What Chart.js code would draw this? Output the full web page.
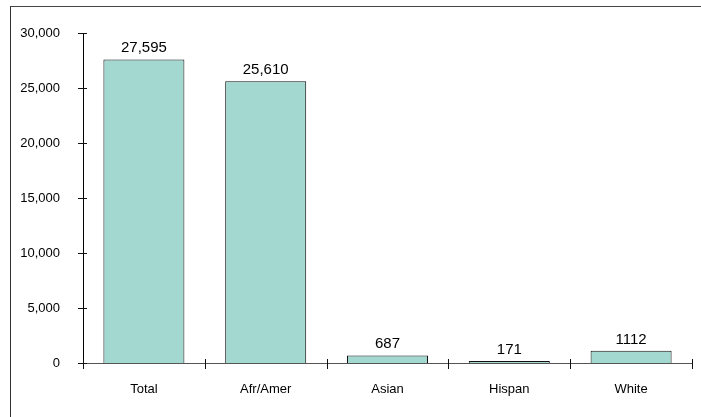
<!DOCTYPE html>
<html>
<head>
<meta charset="utf-8">
<script src="https://cdn.jsdelivr.net/npm/chart.js@4.4.1/dist/chart.umd.min.js"></script>
<style>
  body { margin: 0; background: #fff; }
  #wrap { position: relative; width: 701px; height: 417px; overflow: hidden; }
  #frame { position: absolute; left: 10px; top: 6px; width: 720px; height: 440px;
           border-left: 1px solid #333; border-top: 1px solid #444; }
  #chart { position: absolute; left: 0; top: 0; }
</style>
</head>
<body>
<div id="wrap">
  <div id="frame"></div>
  <canvas id="chart" width="701" height="417"></canvas>
</div>
<script>
// datos del grafico
const categorias = ["Total", "Afr/Amer", "Asian", "Hispan", "White"];
const valores = [27595, 25610, 687, 171, 1112];
const etiquetasValor = ["27,595", "25,610", "687", "171", "1112"];
const ticksY = ["0", "5,000", "10,000", "15,000", "20,000", "25,000", "30,000"];

const fuente = "'Liberation Sans', Arial, sans-serif";

// marcas de los ejes (cruzan la linea del eje) y etiquetas de valores
const extras = {
  id: "extras",
  afterDatasetsDraw(chart) {
    const ctx = chart.ctx;
    const x = chart.scales.x;
    const y = chart.scales.y;
    ctx.save();
    ctx.strokeStyle = "#111";
    ctx.lineWidth = 1;
    ctx.beginPath();
    y.ticks.forEach(t => {
      const py = Math.round(y.getPixelForValue(t.value)) + 0.5;
      ctx.moveTo(y.right - 5, py);
      ctx.lineTo(y.right + 4, py);
    });
    for (let i = 0; i <= categorias.length; i++) {
      const px = Math.round(x.getPixelForValue(i - 0.5)) + 0.5;
      ctx.moveTo(px, x.top - 4);
      ctx.lineTo(px, x.top + 6);
    }
    ctx.stroke();

    // etiquetas encima de cada barra
    ctx.fillStyle = "#000";
    ctx.font = "15px " + fuente;
    ctx.textAlign = "center";
    ctx.textBaseline = "alphabetic";
    const meta = chart.getDatasetMeta(0);
    meta.data.forEach((bar, i) => {
      ctx.fillText(etiquetasValor[i], bar.x, bar.y - 7);
    });
    ctx.restore();
  }
};

const canvas = document.getElementById("chart");
new Chart(canvas, {
  type: "bar",
  data: {
    labels: categorias,
    datasets: [{
      data: valores,
      backgroundColor: "#A2D8D0",
      borderColor: "#111",
      borderWidth: 1,
      barPercentage: 0.665,
      categoryPercentage: 1
    }]
  },
  options: {
    responsive: false,
    animation: false,
    layout: { padding: { top: 33, right: 9, bottom: 0, left: 0 } },
    plugins: {
      legend: { display: false },
      tooltip: { enabled: false }
    },
    scales: {
      x: {
        grid: { display: false },
        border: { display: true, color: "#555", width: 1 },
        ticks: { color: "#000", font: { family: fuente, size: 13 }, padding: 11, maxRotation: 0 },
        afterFit(scale) { scale.height = 54; }
      },
      y: {
        min: 0,
        max: 30000,
        grid: { display: false },
        border: { display: true, color: "#000", width: 1 },
        ticks: {
          stepSize: 5000,
          color: "#000",
          font: { family: fuente, size: 13 },
          padding: 15,
          callback: (v, i) => ticksY[i]
        },
        afterFit(scale) { scale.width = 83; }
      }
    }
  },
  plugins: [extras]
});
</script>
</body>
</html>
